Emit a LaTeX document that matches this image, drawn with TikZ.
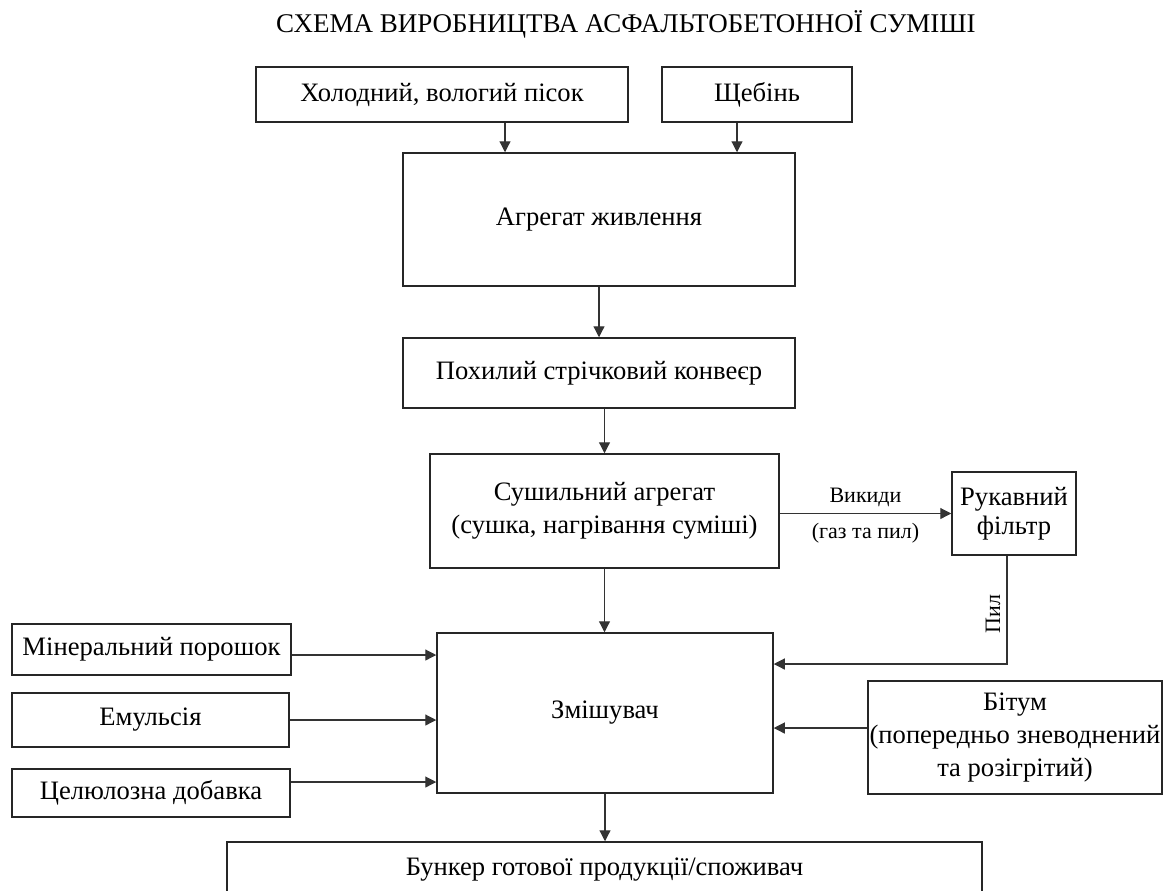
\documentclass[tikz,border=0pt]{standalone}
\usepackage{fontspec}
\setmainfont{Liberation Serif}
\usetikzlibrary{arrows.meta}

\tikzset{
  block/.style={draw=black!85, line width=0.75pt, align=center, inner sep=2pt,
    font=\fontsize{13.3}{16.5}\selectfont},
  arr/.style={-{Triangle[length=5.5pt,width=5.5pt]}, line width=0.6pt, draw=black!80},
  note/.style={font=\fontsize{11}{12}\selectfont, inner sep=1.5pt}
}

\begin{document}
\begin{tikzpicture}[x=0.5pt,y=-0.5pt]
    \useasboundingbox (0,0) rectangle (1172,890);

    % Title
    \node (title) at (626,24) {\fontsize{13.5}{16}\selectfont СХЕМА ВИРОБНИЦТВА АСФАЛЬТОБЕТОННОЇ СУМІШІ};

    % Main line
    \node[block, minimum width=186pt, minimum height=27.5pt] (sand) at (442,94.5) {Холодний, вологий пісок};
    \node[block, minimum width=95pt, minimum height=27.5pt] (gravel) at (757,94.5) {Щебінь};
    \node[block, minimum width=196pt, minimum height=66.5pt] (feeder) at (599,219.5) {Агрегат живлення};
    \node[block, minimum width=196pt, minimum height=35pt] (conveyor) at (599,373) {Похилий стрічковий конвеєр};
    \node[block, minimum width=174.5pt, minimum height=57pt] (dryer) at (604.5,511) {Сушильний агрегат\\(сушка, нагрівання суміші)};
    \node[block, minimum width=62pt, minimum height=41.5pt, font=\fontsize{13.3}{14.5}\selectfont] (filter) at (1014,513.5) {Рукавний\\фільтр};
    \node[block, minimum width=168pt, minimum height=80pt] (mixer) at (605,713) {Змішувач};
    \node[block, minimum width=377.5pt, minimum height=28pt] (bunker) at (604.5,870) {Бункер готової продукції/споживач};

    % Additives
    \node[block, minimum width=139.5pt, minimum height=25.5pt] (mineral) at (151.5,649.5) {Мінеральний порошок};
    \node[block, minimum width=138.5pt, minimum height=27pt] (emulsion) at (150.5,720) {Емульсія};
    \node[block, minimum width=139pt, minimum height=24pt] (cellulose) at (151,793) {Целюлозна добавка};
    \node[block, minimum width=147pt, minimum height=56.5pt, inner xsep=0.5pt] (bitumen) at (1015,737.5) {Бітум\\(попередньо зневоднений\\та розігрітий)};

    % Flow
    \draw[arr] ([xshift=31.5pt]sand.south) -- ([xshift=31.5pt]sand.south |- feeder.north);
    \draw[arr] ([xshift=-10pt]gravel.south) -- ([xshift=-10pt]gravel.south |- feeder.north);
    \draw[arr] (feeder.south) -- (feeder.south |- conveyor.north);
    \draw[arr] (dryer.north |- conveyor.south) -- (dryer.north);
    \draw[arr] (dryer.south) -- (dryer.south |- mixer.north);
    \draw[arr] (mixer.south) -- (mixer.south |- bunker.north);

    % Emissions and dust
    \draw[arr] (filter.west -| dryer.east) -- (filter.west)
        node[note, midway, above=1.5pt] (emis) {Викиди}
        node[note, midway, below=3pt] (emis2) {(газ та пил)};
    \draw[arr] ([xshift=-3.5pt]filter.south) |- ([yshift=24.5pt]mixer.east)
        node[note, pos=0.27, rotate=90, anchor=south, inner sep=3pt] (dust) {Пил};

    % Additive inputs
    \draw[arr] ([yshift=-2.75pt]mineral.east) -- ([yshift=-2.75pt]mineral.east -| mixer.west);
    \draw[arr] (emulsion.east) -- (emulsion.east -| mixer.west);
    \draw[arr] ([yshift=5.5pt]cellulose.east) -- ([yshift=5.5pt]cellulose.east -| mixer.west);
    \draw[arr] ([yshift=4.75pt]bitumen.west) -- ([yshift=4.75pt]bitumen.west -| mixer.east);
\end{tikzpicture}
\end{document}
